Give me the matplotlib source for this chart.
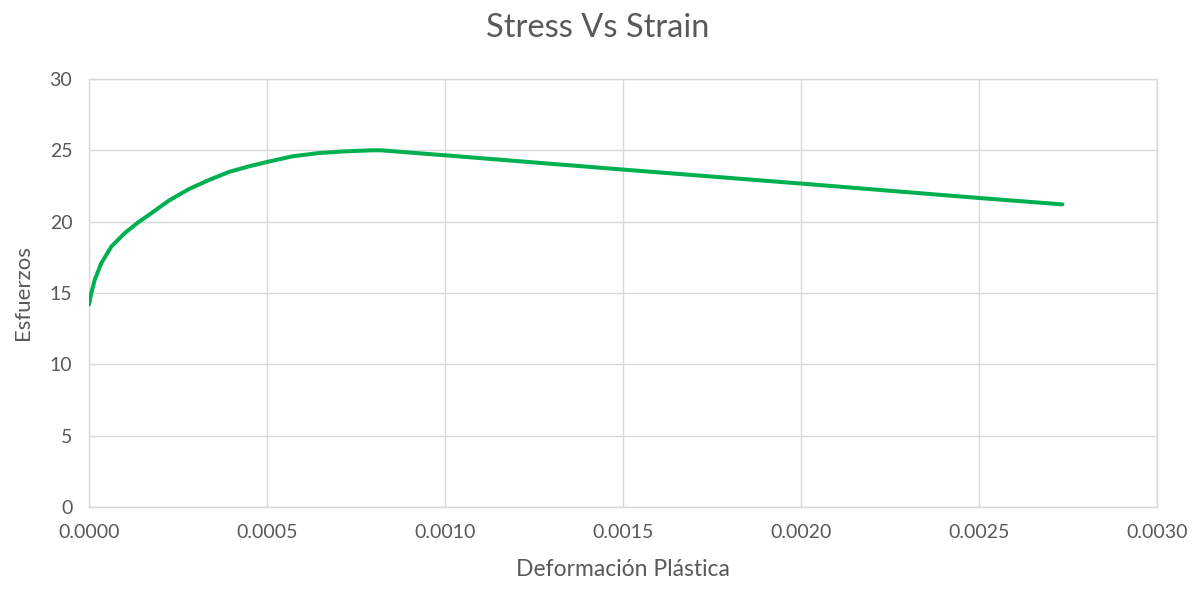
import matplotlib
matplotlib.use('Agg')
import matplotlib.pyplot as plt
from matplotlib.ticker import FormatStrFormatter

# Curva esfuerzo - deformación plástica
deformacion = [0.0, 0.000006, 0.000016, 0.0000347, 0.0000628, 0.0001, 0.000137,
               0.000175, 0.000207, 0.000226, 0.000282, 0.000338, 0.000394,
               0.00045, 0.0005, 0.000572, 0.000647, 0.000721, 0.000796, 0.00082,
               0.0010, 0.0015, 0.0020, 0.0025, 0.002735]
esfuerzo = [14.2, 14.95, 15.93, 17.1, 18.26, 19.19, 19.93,
            20.59, 21.17, 21.5, 22.3, 22.93, 23.49,
            23.88, 24.18, 24.58, 24.81, 24.93, 25.0, 25.0,
            24.65, 23.65, 22.67, 21.66, 21.21]

xticks = [0.0, 0.0005, 0.0010, 0.0015, 0.0020, 0.0025, 0.0030]
yticks = [0, 5, 10, 15, 20, 25, 30]

plt.rcParams['font.family'] = ['Lato', 'DejaVu Sans']
gris = '#595959'

fig = plt.figure(figsize=(11.95, 5.89), dpi=100)
ax = fig.add_axes([0.0745, 0.139, 0.8935, 0.727])

ax.plot(deformacion, esfuerzo, color='#00B050', linewidth=2.9,
        solid_capstyle='round', solid_joinstyle='round', zorder=3)

ax.set_xlim(0, 0.003)
ax.set_ylim(0, 30)
ax.set_xticks(xticks)
ax.set_yticks(yticks)
ax.xaxis.set_major_formatter(FormatStrFormatter('%.4f'))
ax.grid(True, color='#D9D9D9', linewidth=1.0)
ax.set_axisbelow(True)
for s in ax.spines.values():
    s.set_color('#D9D9D9')
    s.set_linewidth(1.0)
ax.tick_params(length=0, labelsize=14, labelcolor=gris, pad=12)

ax.set_xlabel('Deformación Plástica', fontsize=16.5, color=gris, labelpad=13)
ax.set_ylabel('Esfuerzos', fontsize=16, color=gris, labelpad=12)
fig.suptitle('Stress Vs Strain', fontsize=23.5, color=gris, y=0.978)

fig.savefig('out.png', dpi=100)
